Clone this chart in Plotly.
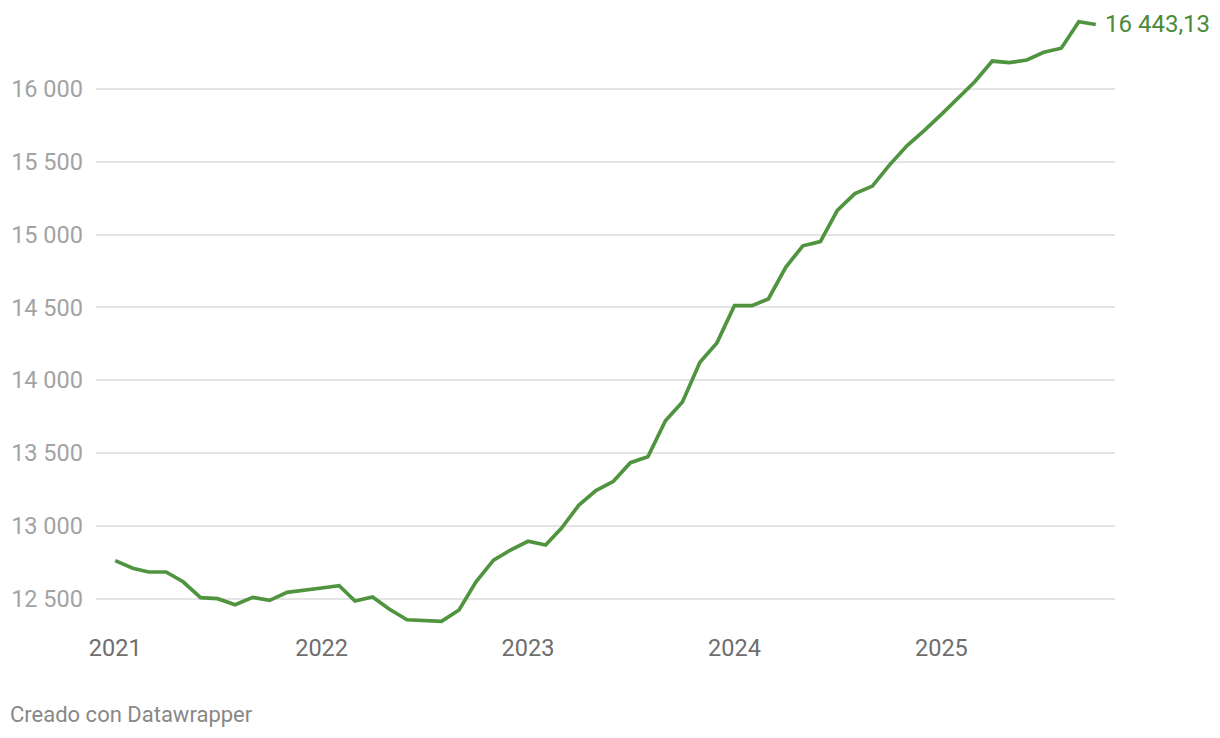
import plotly.graph_objects as go
import pandas as pd

# Monthly values, Jan 2021 - Oct 2025
months = pd.date_range("2021-01-01", "2025-10-01", freq="MS").strftime("%Y-%m-%d").tolist()
values = [
    12760, 12708, 12682, 12682, 12615, 12506, 12499, 12457, 12508, 12487, 12542, 12554,
    12572, 12588, 12483, 12510, 12426, 12354, 12348, 12343, 12421, 12615, 12764, 12833,
    12893, 12867, 12982, 13142, 13241, 13305, 13433, 13474, 13721, 13850, 14123, 14256,
    14512, 14512, 14558, 14777, 14923, 14952, 15166, 15281, 15333, 15477, 15610, 15712,
    15826, 15940, 16050, 16192, 16181, 16199, 16252, 16280, 16462, 16443.13,
]
y_ticks = [12500, 13000, 13500, 14000, 14500, 15000, 15500, 16000]
x_ticks = ["2021-01-01", "2022-01-01", "2023-01-01", "2024-01-01", "2025-01-01"]
x_tick_labels = ["2021", "2022", "2023", "2024", "2025"]
last_label = "16 443,13"
source_text = "Creado con Datawrapper"

GREEN = "#51943f"

fig = go.Figure()
fig.add_trace(go.Scatter(
    x=months, y=values, mode="lines",
    line=dict(color=GREEN, width=3.7),
    hoverinfo="skip", showlegend=False,
))

fig.update_layout(
    width=1220, height=738,
    margin=dict(l=96, r=105, t=10, b=108),
    paper_bgcolor="white", plot_bgcolor="white",
    separators=", ",
    font=dict(family="Roboto"),
    annotations=[
        dict(x=months[-1], y=values[-1], text=last_label,
             xanchor="left", yanchor="middle", showarrow=False, xshift=7,
             font=dict(family="Roboto", size=24, color="#4a8a38")),
        dict(x=-88 / 1019, y=-84 / 620, xref="paper", yref="paper",
             xanchor="left", yanchor="middle", text=source_text, showarrow=False,
             font=dict(family="Roboto", size=22, color="#888888")),
    ],
)

fig.update_xaxes(
    type="date",
    range=["2020-11-28", "2025-11-04"],
    tickvals=x_ticks, ticktext=x_tick_labels,
    showgrid=False, zeroline=False, showline=False, ticks="",
    tickfont=dict(family="Roboto", size=23.5, color="#6e6e6e"),
    ticklabelstandoff=1,
)
fig.update_yaxes(
    range=[12283.6, 16542.7],
    tickvals=y_ticks, tickformat=",",
    showgrid=True, gridcolor="#e4e4e4", gridwidth=2,
    zeroline=False, showline=False, ticks="",
    tickfont=dict(family="Roboto", size=23.5, color="#a3a3a3"),
    ticklabelstandoff=12,
)

fig.write_html(
    "out.html",
    config={"displayModeBar": False, "staticPlot": True},
    post_script="document.body.style.margin='0';document.body.style.overflow='hidden';",
)
